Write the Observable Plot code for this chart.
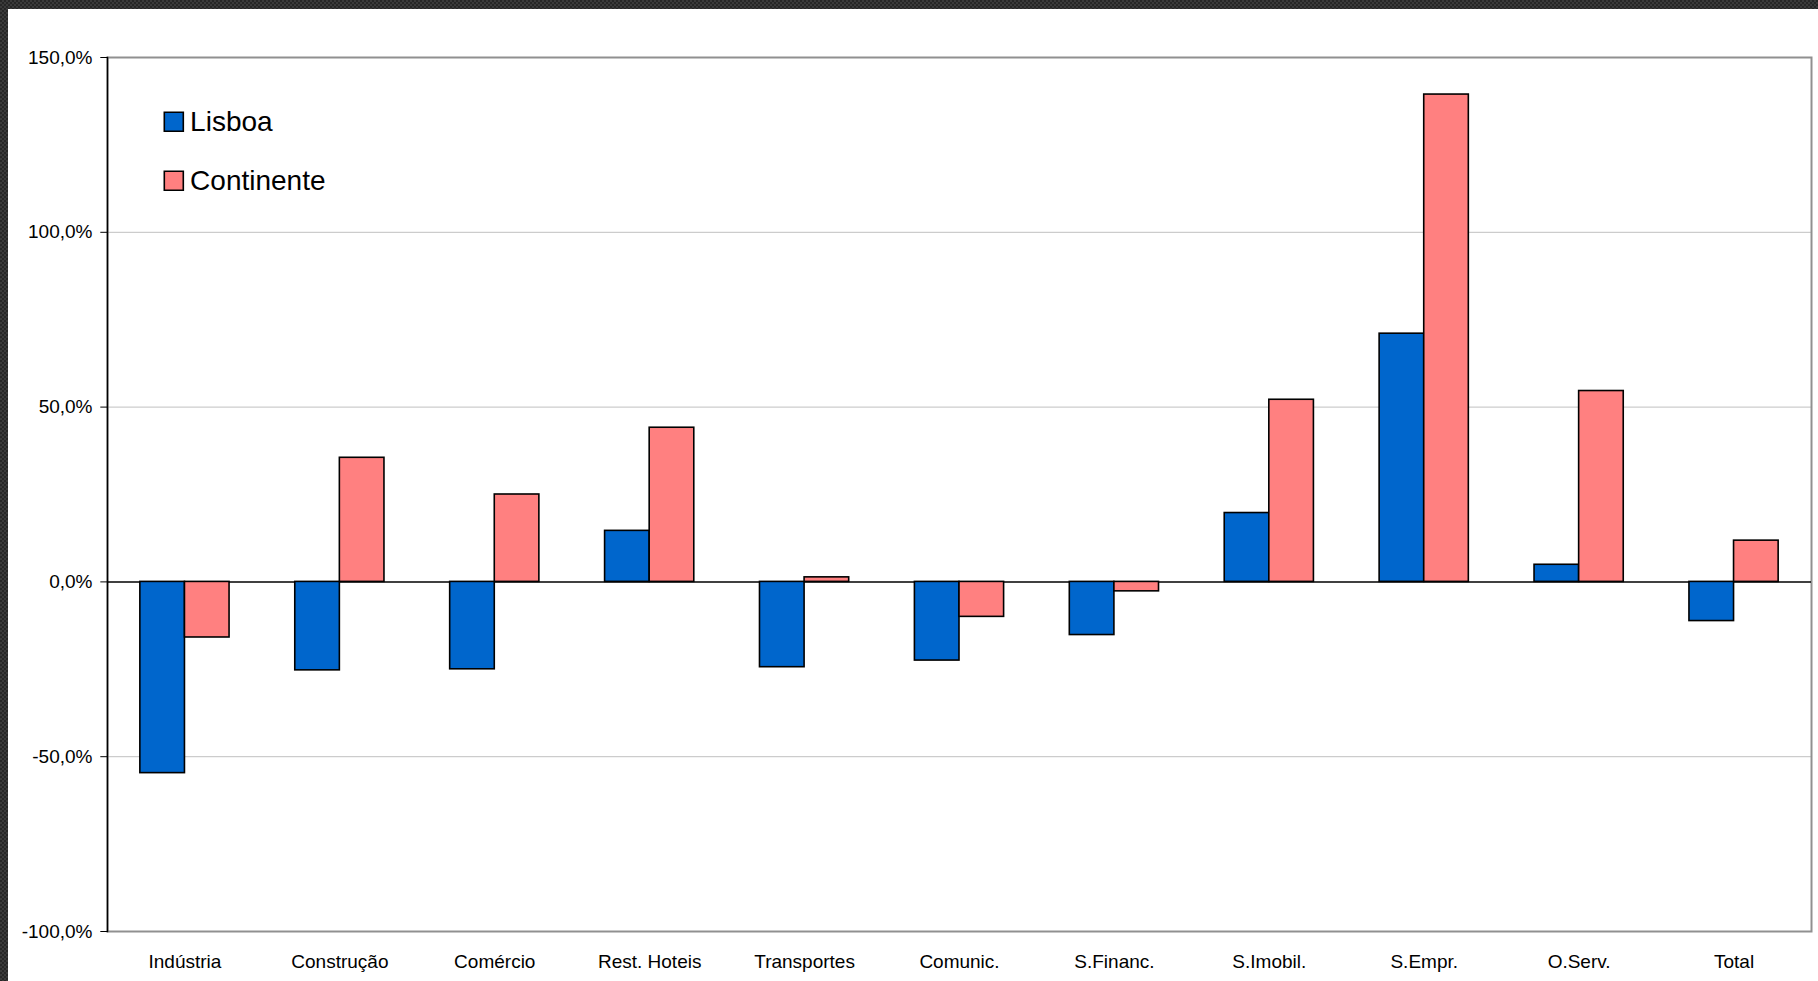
<!DOCTYPE html>
<html>
<head>
<meta charset="utf-8">
<script src="https://cdn.jsdelivr.net/npm/d3@7"></script>
<script src="https://cdn.jsdelivr.net/npm/@observablehq/plot@0.6"></script>
<style>
  html, body { margin: 0; padding: 0; width: 1818px; height: 981px; overflow: hidden; }
  body {
    background-color: #262626;
    background-image: repeating-conic-gradient(#3a3a3a 0 25%, #262626 0 50%);
    background-size: 4px 4px;
    position: relative;
  }
  #panel { position: absolute; left: 8px; top: 9px; right: 0; bottom: 0; background: #fff; }
  #chart { position: absolute; left: 0; top: 0; }
</style>
</head>
<body>
<div id="panel"></div>
<div id="chart"></div>
<script>
const categories = ["Indústria", "Construção", "Comércio", "Rest. Hoteis", "Transportes", "Comunic.", "S.Financ.", "S.Imobil.", "S.Empr.", "O.Serv.", "Total"];
const lisboa     = [-54.7, -25.3, -25.0, 14.6, -24.4, -22.5, -15.2, 19.7, 71.0, 4.9, -11.2];
const continente = [-15.9,  35.5,  25.0, 44.1,   1.3, -10.0,  -2.7, 52.1, 139.4, 54.6, 11.8];
const seriesNames = ["Lisboa", "Continente"];
const seriesColors = ["#0066CC", "#FF8080"];
const yTicks = [-100, -50, 0, 50, 100, 150];
const yGrid = [-50, 50, 100];

const W = 1818, H = 981;
const mL = 107, mR = 7, mT = 57, mB = 50;
const bw = (W - mL - mR) / categories.length;
const barW = 44.6;

const rowsL = categories.map((c, i) => ({cat: c, value: lisboa[i]}));
const rowsC = categories.map((c, i) => ({cat: c, value: continente[i]}));
const fmt = d => d.toFixed(1).replace(".", ",") + "%";

const legendMarks = seriesNames.flatMap((name, i) => [
  Plot.dot([name], {frameAnchor: "top-left", dx: 66.3, dy: 64.3 + i * 59, symbol: "square",
    r: 19 / Math.sqrt(Math.PI), fill: seriesColors[i], stroke: "#000", strokeWidth: 1.6}),
  Plot.text([name], {frameAnchor: "top-left", dx: 82.6, dy: 65 + i * 59, text: d => d,
    textAnchor: "start", lineAnchor: "middle", fontSize: 28, fill: "#000"})
]);

const chart = Plot.plot({
  width: W, height: H,
  marginLeft: mL, marginRight: mR, marginTop: mT, marginBottom: mB,
  style: {background: "transparent", fontFamily: "'Liberation Sans', Arial, sans-serif", color: "#000"},
  x: {domain: categories, padding: 0, round: false, axis: null},
  y: {domain: [-100, 150], axis: null},
  marks: [
    Plot.gridY(yGrid, {stroke: "#c0c0c0", strokeOpacity: 1, strokeWidth: 1}),
    Plot.frame({stroke: "#909090", strokeWidth: 2}),
    Plot.frame({anchor: "left", stroke: "#000", strokeWidth: 1.5}),
    Plot.ruleY([0], {stroke: "#000", strokeWidth: 1.5}),
    Plot.barY(rowsL, {x: "cat", y1: 0, y2: "value", fill: seriesColors[0], stroke: "#000", strokeWidth: 1.6,
      insetLeft: bw / 2 - barW, insetRight: bw / 2}),
    Plot.barY(rowsC, {x: "cat", y1: 0, y2: "value", fill: seriesColors[1], stroke: "#000", strokeWidth: 1.6,
      insetLeft: bw / 2, insetRight: bw / 2 - barW}),
    Plot.axisY({ticks: yTicks, tickFormat: fmt, tickSize: 6.7, tickPadding: 8.3, fontSize: 19, stroke: "#000", label: null}),
    Plot.axisX({tickSize: 0, tickPadding: 22.5, fontSize: 19, label: null}),
    ...legendMarks
  ]
});
document.getElementById("chart").appendChild(chart);
</script>
</body>
</html>
